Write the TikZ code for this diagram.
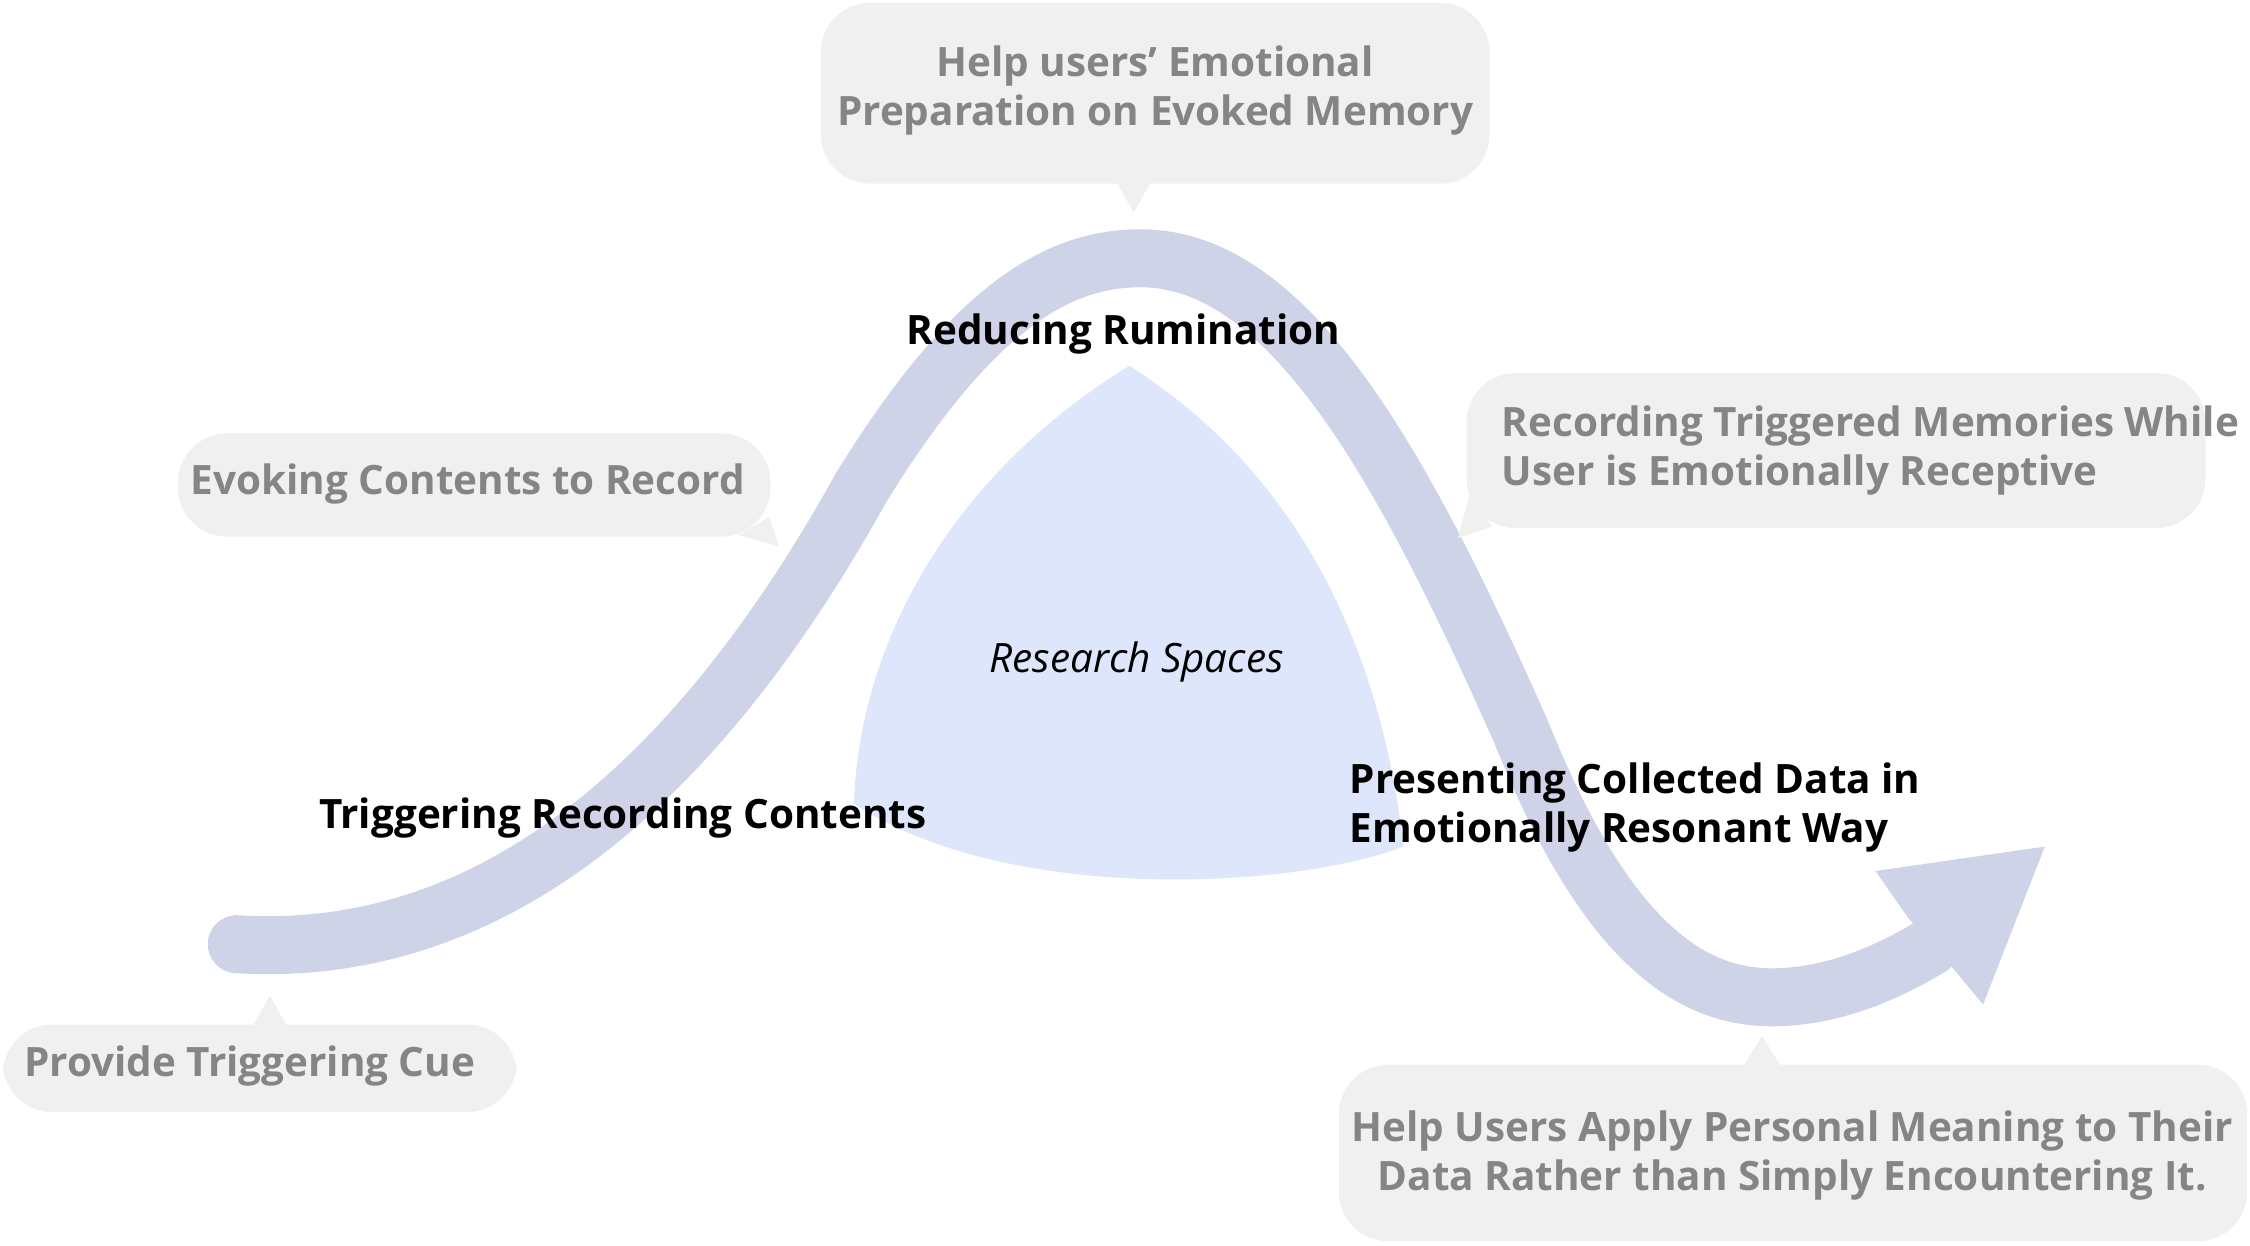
\documentclass[tikz,border=0pt]{standalone}
\usepackage{fontspec}
\setmainfont{Open Sans}
\begin{document}
\begin{tikzpicture}[x=0.01435cm,y=-0.01435cm,
  bub/.style={fill=bubg,rounded corners=14pt},
  gtxt/.style={text=gtext,font=\fontsize{11.5}{14}\selectfont\bfseries,align=center},
  btxt/.style={text=black,font=\fontsize{11.5}{14}\selectfont\bfseries}]
\definecolor{bubg}{HTML}{F0F0F0}
\definecolor{gtext}{HTML}{858585}
\definecolor{curve}{HTML}{CFD3E8}
\definecolor{region}{HTML}{DEE6FB}
\useasboundingbox (0,0) rectangle (1568,868);
% region
\fill[region] (595,560) .. controls (600,430) and (680,320) .. (787,255)
  .. controls (890,320) and (960,430) .. (978,590)
  .. controls (900,620) and (700,630) .. (595,560) -- cycle;
% curve
\draw[curve,line width=16.5pt,line cap=round]
  (165,658) .. controls (360,670) and (500,520) .. (600,340)
  .. controls (680,210) and (740,180) .. (795,180)
  .. controls (900,180) and (980,330) .. (1060,510)
  .. controls (1120,660) and (1180,695) .. (1235,695)
  .. controls (1280,695) and (1320,675) .. (1345,660);
\fill[curve] (1307,607) -- (1425,590) -- (1382,700) -- (1357,670) -- (1330,640) -- cycle;
% bubbles
\fill[bub] (572,2) rectangle (1038,128);
\fill[bubg] (778,127) -- (802,127) -- (790,148) -- cycle;
\fill[bub] (124,302) rectangle (537,374);
\fill[bubg] (515,373) -- (536,360) -- (543,381) -- cycle;
\fill[bub] (1022,260) rectangle (1537,368);
\fill[bubg] (1024,345) -- (1040,367) -- (1016,375) -- cycle;
\fill[bub] (2,714) rectangle (360,775);
\fill[bubg] (176,715) -- (200,715) -- (188,694) -- cycle;
\fill[bub] (933,742) rectangle (1566,865);
\fill[bubg] (1215,743) -- (1241,743) -- (1228,722) -- cycle;
% texts
\node[gtxt] (t1) at (805,63) {Help users’ Emotional\\Preparation on Evoked Memory};
\node[gtxt] (t2) at (326,337) {Evoking Contents to Record};
\node[gtxt,align=left,anchor=west] (t3) at (1038,314) {Recording Triggered Memories While\\User is Emotionally Receptive};
\node[gtxt] (t4) at (174,743) {Provide Triggering Cue};
\node[gtxt] (t5) at (1249,805) {Help Users Apply Personal Meaning to Their\\Data Rather than Simply Encountering It.};
\node[btxt] (l1) at (783,233) {Reducing Rumination};
\node[btxt] (l2) at (434,570) {Triggering Recording Contents};
\node[btxt,align=left,anchor=west] (l3) at (932,563) {Presenting Collected Data in\\Emotionally Resonant Way};
\node[font=\fontsize{11.5}{14}\selectfont\itshape] (rs) at (792,461) {Research Spaces};
\end{tikzpicture}
\end{document}
